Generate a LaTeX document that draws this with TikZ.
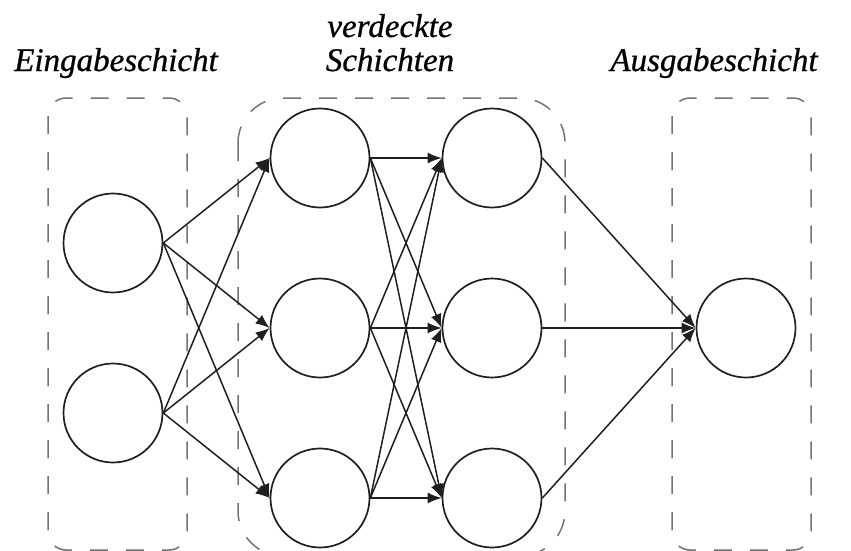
\documentclass[tikz,border=0pt]{standalone}
\usepackage{fontspec}
\newfontfamily\labfont{Liberation Serif}[ItalicFeatures={FakeBold=0.7}]
\usetikzlibrary{arrows.meta}
\tikzset{
  neuron/.style={circle,draw=black!88,line width=1.7pt,minimum size=99pt,inner sep=0pt},
  layerbox/.style={draw=black!55,line width=1.5pt,dash pattern=on 18pt off 18pt},
  arr/.style={draw=black!88,line width=1.5pt,-{Latex[length=14pt,width=11pt]}},
  lab/.style={font=\labfont\itshape\fontsize{33}{38}\selectfont,anchor=base,inner sep=0pt}
}
\begin{document}
\begin{tikzpicture}[x=1pt,y=-1pt]
\useasboundingbox (0,0) rectangle (851,551);
\begin{scope}
\clip (0,0) rectangle (851,551);
\draw[layerbox,rounded corners=18pt] (48,98) rectangle (187,550);
\draw[layerbox,rounded corners=45pt] (238,98) rectangle (565,556);
\draw[layerbox,rounded corners=18pt] (672,98) rectangle (811,550);
\end{scope}
\node[lab] (tin) at (116,71) {Eingabeschicht};
\node[lab] (thid1) at (390,37) {verdeckte};
\node[lab] (thid2) at (390,71) {Schichten};
\node[lab] (tout) at (714,71) {Ausgabeschicht};
\node[neuron] (i1) at (113,243) {};
\node[neuron] (i2) at (113,413) {};
\node[neuron] (ha) at (320,158) {};
\node[neuron] (hb) at (320,328) {};
\node[neuron] (hc) at (320,498) {};
\node[neuron] (ga) at (492,158) {};
\node[neuron] (gb) at (492,328) {};
\node[neuron] (gc) at (492,498) {};
\node[neuron] (o) at (746,328) {};
\foreach \s in {i1,i2}{\foreach \t in {ha,hb,hc}{\draw[arr] (\s.east) -- (\t.west);}}
\foreach \s in {ha,hb,hc}{\foreach \t in {ga,gb,gc}{\draw[arr] (\s.east) -- (\t.west);}}
\foreach \s in {ga,gb,gc}{\draw[arr] (\s.east) -- (o.west);}
\end{tikzpicture}
\end{document}
